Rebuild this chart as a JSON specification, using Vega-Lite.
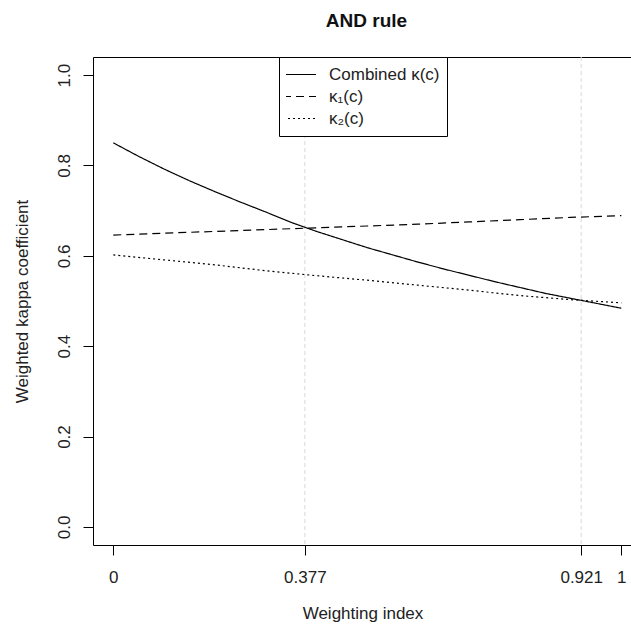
{
  "$schema": "https://vega.github.io/schema/vega-lite/v6.json",
  "autosize": {"type": "none"},
  "width": 539,
  "height": 488,
  "padding": {"left": 93, "top": 57, "right": 0, "bottom": 83},
  "background": "white",
  "title": {
    "text": "AND rule",
    "font": "Liberation Sans",
    "fontSize": 19,
    "fontWeight": "bold",
    "color": "#111",
    "anchor": "middle",
    "dx": 4,
    "offset": 26
  },
  "config": {
    "view": {"stroke": "black", "strokeWidth": 1},
    "axis": {
      "domain": false,
      "grid": false,
      "tickColor": "black",
      "tickSize": 10,
      "labelFont": "Liberation Sans",
      "labelFontSize": 17,
      "labelColor": "#222",
      "titleFont": "Liberation Sans",
      "titleFontSize": 17,
      "titleFontWeight": "normal",
      "titleColor": "#222"
    },
    "legend": {
      "orient": "none",
      "legendX": 186,
      "legendY": 0,
      "strokeColor": "black",
      "fillColor": "white",
      "padding": 7,
      "labelFont": "Liberation Sans",
      "labelFontSize": 17,
      "labelColor": "#222",
      "symbolType": "stroke",
      "symbolSize": 1089,
      "symbolStrokeWidth": 1.2,
      "symbolStrokeColor": "black",
      "symbolOffset": -4,
      "clipHeight": 21,
      "rowPadding": 1,
      "labelOffset": 12
    }
  },
  "layer": [
    {
      "data": {"values": [{"v": 0.377}, {"v": 0.921}]},
      "mark": {"type": "rule", "color": "#d9d9d9", "strokeDash": [4, 3], "strokeWidth": 1},
      "encoding": {
        "x": {"field": "v", "type": "quantitative", "scale": {"domain": [-0.04, 1.021], "nice": false, "zero": false}}
      }
    },
    {
      "data": {
        "values": [
          {"x": 0.00, "k": 0.850, "series": "Combined κ(c)"},
          {"x": 0.05, "k": 0.820, "series": "Combined κ(c)"},
          {"x": 0.10, "k": 0.792, "series": "Combined κ(c)"},
          {"x": 0.15, "k": 0.766, "series": "Combined κ(c)"},
          {"x": 0.20, "k": 0.742, "series": "Combined κ(c)"},
          {"x": 0.25, "k": 0.719, "series": "Combined κ(c)"},
          {"x": 0.30, "k": 0.697, "series": "Combined κ(c)"},
          {"x": 0.35, "k": 0.674, "series": "Combined κ(c)"},
          {"x": 0.40, "k": 0.654, "series": "Combined κ(c)"},
          {"x": 0.45, "k": 0.636, "series": "Combined κ(c)"},
          {"x": 0.50, "k": 0.618, "series": "Combined κ(c)"},
          {"x": 0.55, "k": 0.602, "series": "Combined κ(c)"},
          {"x": 0.60, "k": 0.586, "series": "Combined κ(c)"},
          {"x": 0.65, "k": 0.571, "series": "Combined κ(c)"},
          {"x": 0.70, "k": 0.557, "series": "Combined κ(c)"},
          {"x": 0.75, "k": 0.543, "series": "Combined κ(c)"},
          {"x": 0.80, "k": 0.530, "series": "Combined κ(c)"},
          {"x": 0.85, "k": 0.517, "series": "Combined κ(c)"},
          {"x": 0.90, "k": 0.506, "series": "Combined κ(c)"},
          {"x": 0.95, "k": 0.495, "series": "Combined κ(c)"},
          {"x": 1.00, "k": 0.484, "series": "Combined κ(c)"},
          {"x": 0.0, "k": 0.646, "series": "κ₁(c)"},
          {"x": 0.1, "k": 0.650, "series": "κ₁(c)"},
          {"x": 0.2, "k": 0.654, "series": "κ₁(c)"},
          {"x": 0.3, "k": 0.658, "series": "κ₁(c)"},
          {"x": 0.4, "k": 0.662, "series": "κ₁(c)"},
          {"x": 0.5, "k": 0.666, "series": "κ₁(c)"},
          {"x": 0.6, "k": 0.670, "series": "κ₁(c)"},
          {"x": 0.7, "k": 0.675, "series": "κ₁(c)"},
          {"x": 0.8, "k": 0.680, "series": "κ₁(c)"},
          {"x": 0.9, "k": 0.685, "series": "κ₁(c)"},
          {"x": 1.0, "k": 0.689, "series": "κ₁(c)"},
          {"x": 0.0, "k": 0.602, "series": "κ₂(c)"},
          {"x": 0.1, "k": 0.591, "series": "κ₂(c)"},
          {"x": 0.2, "k": 0.580, "series": "κ₂(c)"},
          {"x": 0.3, "k": 0.567, "series": "κ₂(c)"},
          {"x": 0.4, "k": 0.556, "series": "κ₂(c)"},
          {"x": 0.5, "k": 0.546, "series": "κ₂(c)"},
          {"x": 0.6, "k": 0.535, "series": "κ₂(c)"},
          {"x": 0.7, "k": 0.524, "series": "κ₂(c)"},
          {"x": 0.8, "k": 0.512, "series": "κ₂(c)"},
          {"x": 0.9, "k": 0.503, "series": "κ₂(c)"},
          {"x": 1.0, "k": 0.496, "series": "κ₂(c)"}
        ]
      },
      "mark": {"type": "line", "color": "black", "strokeWidth": 1.2},
      "encoding": {
        "x": {
          "field": "x", "type": "quantitative",
          "scale": {"domain": [-0.04, 1.021], "nice": false, "zero": false},
          "axis": {"values": [0, 0.377, 0.921, 1], "format": ".3~f", "labelPadding": 14, "title": "Weighting index", "titlePadding": 20}
        },
        "y": {
          "field": "k", "type": "quantitative",
          "scale": {"domain": [-0.04, 1.04], "nice": false, "zero": false},
          "axis": {"values": [0, 0.2, 0.4, 0.6, 0.8, 1.0], "format": ".1f", "labelAngle": 270, "labelAlign": "center", "labelBaseline": "bottom", "labelPadding": 10, "title": "Weighted kappa coefficient", "titlePadding": 24}
        },
        "strokeDash": {
          "field": "series", "type": "nominal",
          "scale": {"domain": ["Combined κ(c)", "κ₁(c)", "κ₂(c)"], "range": [[1, 0], [8, 5], [2, 3]]},
          "legend": {"title": null}
        }
      }
    }
  ]
}
